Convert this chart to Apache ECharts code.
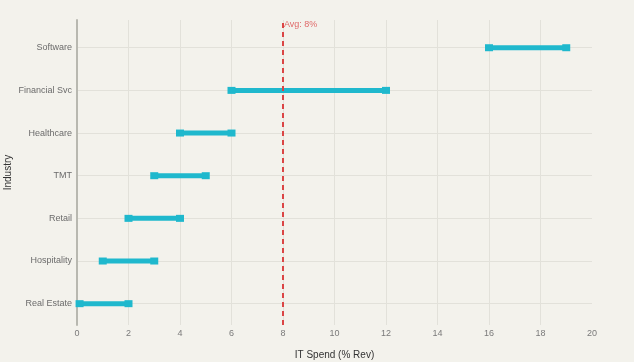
<!DOCTYPE html>
<html>
<head>
<meta charset="utf-8">
<script src="https://cdn.jsdelivr.net/npm/echarts@6/dist/echarts.min.js"></script>
<style>
html,body{margin:0;padding:0;background:#F3F2EC;}
#c{width:634px;height:362px;}
</style>
</head>
<body>
<div id="c"></div>
<script>
// Bottom-to-top order (index 0 = bottom row)
const categories = ["Real Estate", "Hospitality", "Retail", "TMT", "Healthcare", "Financial Svc", "Software"];
const lowValues  = [0.1, 1, 2, 3, 4, 6, 16];
const highValues = [2, 3, 4, 5, 6, 12, 19];
const avgValue = 8;
const xTicks = [0, 2, 4, 6, 8, 10, 12, 14, 16, 18, 20];

const FONT = "Liberation Sans, Arial, sans-serif";
const TEAL = "#1FB8CD";
const yMin = -0.5, yMax = 6.65;

const idx = categories.map((_, i) => i);

const series = categories.map((c, i) => ({
  type: 'line',
  name: c,
  data: [[lowValues[i], i], [highValues[i], i]],
  symbol: 'rect',
  symbolSize: [8, 7],
  lineStyle: { color: TEAL, width: 5 },
  itemStyle: { color: TEAL },
  silent: true,
  z: 3
}));

series.push({
  type: 'line',
  data: [],
  markLine: {
    silent: true,
    symbol: 'none',
    lineStyle: { color: '#DB4545', type: [5, 4], width: 2 },
    label: { show: false },
    data: [{ xAxis: avgValue }]
  },
  markPoint: {
    silent: true,
    symbol: 'rect',
    symbolSize: 0,
    label: {
      show: true,
      position: 'right',
      distance: 1,
      formatter: 'Avg: ' + avgValue + '%',
      color: '#E06A6A',
      fontSize: 9,
      fontFamily: FONT
    },
    data: [{ coord: [avgValue, 6.54] }]
  },
  z: 2
});

const chart = echarts.init(document.getElementById('c'));
chart.setOption({
  backgroundColor: '#F3F2EC',
  animation: false,
  grid: { left: 77, right: 42, top: 20, bottom: 37, containLabel: false, outerBoundsMode: 'none' },
  xAxis: {
    type: 'value',
    min: xTicks[0],
    max: xTicks[xTicks.length - 1],
    interval: 2,
    name: 'IT Spend (% Rev)',
    nameLocation: 'middle',
    nameGap: 25,
    nameMoveOverlap: false,
    nameTextStyle: { color: '#333', fontSize: 10, fontFamily: FONT },
    axisLine: { show: false },
    axisTick: { show: false },
    axisLabel: { color: '#7a7a7a', fontSize: 9, margin: 4, fontFamily: FONT },
    splitLine: { show: true, showMaxLine: false, lineStyle: { color: '#E2E1DA', width: 1 } }
  },
  yAxis: {
    type: 'value',
    min: yMin,
    max: yMax,
    name: 'Industry',
    nameLocation: 'middle',
    nameGap: 64,
    nameMoveOverlap: false,
    nameTextStyle: { color: '#333', fontSize: 10, fontFamily: FONT },
    axisLine: { show: true, lineStyle: { color: '#B8B8B0', width: 2 } },
    axisTick: { show: false, customValues: idx },
    axisLabel: {
      customValues: idx,
      formatter: v => categories[Math.round(v)] || '',
      color: '#6b6b6b', fontSize: 9, margin: 5, fontFamily: FONT
    },
    splitLine: { show: true, lineStyle: { color: '#E2E1DA', width: 1 } }
  },
  series: series
});
</script>
</body>
</html>
